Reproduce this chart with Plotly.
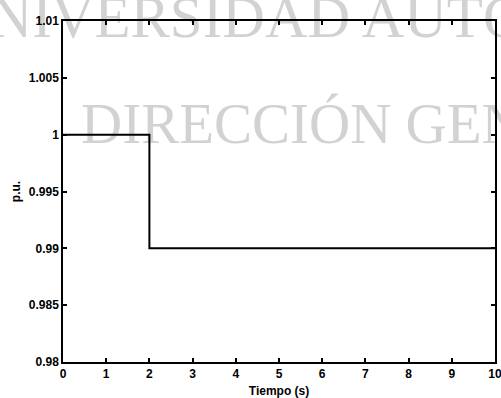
import plotly.graph_objects as go

# Data
tiempo = [0, 2, 2, 10]
voltaje = [1.0, 1.0, 0.99, 0.99]
x_ticks = [0, 1, 2, 3, 4, 5, 6, 7, 8, 9, 10]
y_ticks = [0.98, 0.985, 0.99, 0.995, 1.0, 1.005, 1.01]
y_labels = ["0.98", "0.985", "0.99", "0.995", "1", "1.005", "1.01"]
watermark = ["UNIVERSIDAD AUTÓNOMA", "DIRECCIÓN GENERAL"]

W, H = 501, 398
L, R, T, B = 63, 6, 21, 36
pw, ph = W - L - R, H - T - B

def px(p):
    return (p - L) / pw

def py(p):
    return (H - B - p) / ph

fig = go.Figure()
fig.add_trace(go.Scatter(x=tiempo, y=voltaje, mode="lines",
                         line=dict(color="black", width=2), showlegend=False))

for text, left, cy, size in zip(watermark, [-56, 78], [11, 117], [59, 57]):
    fig.add_shape(type="rect", xref="paper", yref="paper",
                  x0=px(left), x1=px(W + 300), y0=py(cy + 30), y1=py(cy - 30),
                  line=dict(width=0), fillcolor="rgba(0,0,0,0)", layer="below",
                  label=dict(text=text, textposition="middle left", padding=0,
                             font=dict(family="Liberation Serif, Times New Roman",
                                       size=size, color="#d2d2d2")))

font = dict(family="Liberation Sans, Arial", size=12, color="black", weight="bold")
axis_common = dict(showline=True, linecolor="black", linewidth=1.5, mirror="ticks",
                   ticks="inside", ticklen=4, tickcolor="black", tickwidth=1.5,
                   showgrid=False, zeroline=False, tickfont=font, automargin=False,
                   layer="above traces", ticklabeloverflow="allow")

fig.update_xaxes(range=[0, 10], tickvals=x_ticks,
                 title=dict(text="Tiempo (s)", font=font, standoff=8), **axis_common)
fig.update_yaxes(range=[0.98, 1.01], tickvals=y_ticks, ticktext=y_labels,
                 title=dict(text="p.u.", font=font, standoff=6), **axis_common)

fig.update_layout(width=W, height=H, margin=dict(l=L, r=R, t=T, b=B),
                  paper_bgcolor="white", plot_bgcolor="rgba(0,0,0,0)")
fig.write_html("out.html", config={"displayModeBar": False},
               post_script="document.body.style.margin='0';document.body.style.overflow='hidden';")
